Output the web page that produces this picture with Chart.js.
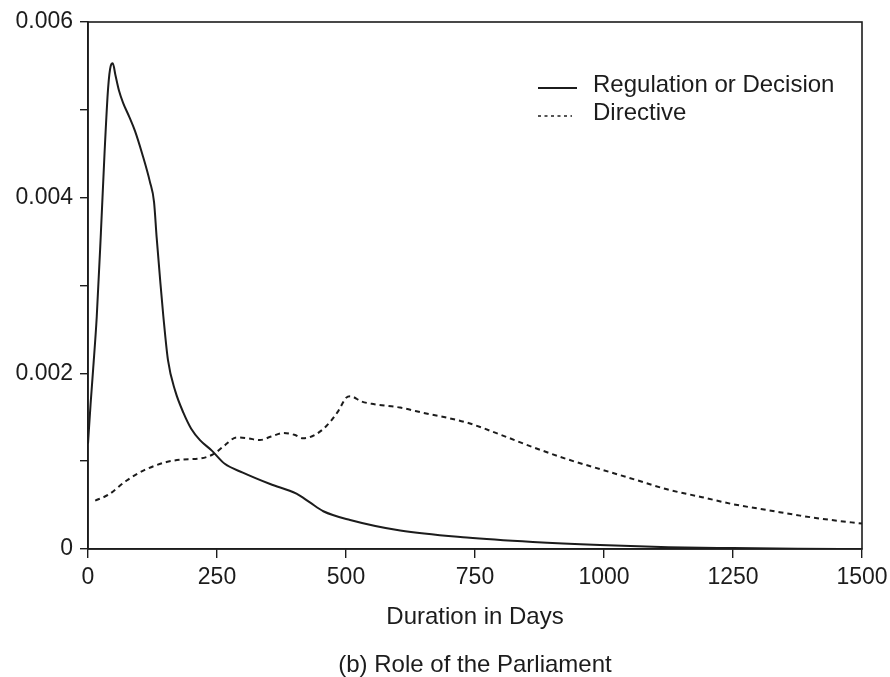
<!DOCTYPE html>
<html>
<head>
<meta charset="utf-8">
<script src="https://cdn.jsdelivr.net/npm/chart.js@4/dist/chart.umd.min.js"></script>
<style>
  html, body { margin: 0; padding: 0; background: #fff; }
  #wrap { width: 890px; height: 677px; position: relative; }
</style>
</head>
<body>
<div id="wrap"><canvas id="c" width="890" height="677"></canvas></div>
<script>
// ---- data ----
const regDays = [0, 5, 10, 17, 25, 32, 39, 44, 48, 53, 60, 68, 80, 91, 105, 120, 128, 133, 140, 146, 155, 169, 185, 200, 217, 240, 265, 300, 353, 404, 430, 456, 508, 605, 734, 862, 992, 1125, 1250, 1375, 1500];
const regValues = [0.00120, 0.00165, 0.00205, 0.00265, 0.00360, 0.00450, 0.00525, 0.00550, 0.00553, 0.00540, 0.00522, 0.00508, 0.00492, 0.00476, 0.00450, 0.00418, 0.00395, 0.00355, 0.00305, 0.00265, 0.00215, 0.00180, 0.00155, 0.00137, 0.00124, 0.00112, 0.00097, 0.00087, 0.00074, 0.00063, 0.00053, 0.00043, 0.00033, 0.00021, 0.00013, 0.00008, 0.000045, 0.00002, 0.00001, 0.000003, 0];

const dirDays = [14, 40, 75, 110, 152, 185, 217, 243, 265, 288, 310, 333, 355, 379, 400, 417, 440, 462, 485, 500, 508, 530, 553, 605, 650, 734, 800, 862, 930, 992, 1060, 1122, 1190, 1250, 1320, 1380, 1440, 1500];
const dirValues = [0.00055, 0.00062, 0.00078, 0.00090, 0.00099, 0.00102, 0.00103, 0.00108, 0.00118, 0.00127, 0.00126, 0.00124, 0.00128, 0.00132, 0.00130, 0.00126, 0.00130, 0.00140, 0.00157, 0.00172, 0.00174, 0.00168, 0.00165, 0.00161, 0.00155, 0.00144, 0.00130, 0.00116, 0.00102, 0.00091, 0.00079, 0.00068, 0.00059, 0.00051, 0.00044, 0.00038, 0.00033, 0.00029];

const seriesLabels = ["Regulation or Decision", "Directive"];
const xTickValues = [0, 250, 500, 750, 1000, 1250, 1500];
const yLabelledTicks = ["0", "0.002", "0.004", "0.006"];
const xTitle = "Duration in Days";
const caption = "(b) Role of the Parliament";

const INK = '#1c1c1c';
const FONT = "'Liberation Sans', Arial, Helvetica, sans-serif";

function toPoints(xs, ys) { return xs.map((x, i) => ({ x: x, y: ys[i] })); }

const frame = {
  id: 'frame',
  afterDatasetsDraw(chart) {
    const { ctx, chartArea: a } = chart;
    ctx.save();
    ctx.strokeStyle = INK;
    ctx.lineWidth = 1.6;
    ctx.strokeRect(a.left, a.top, a.right - a.left, a.bottom - a.top);
    ctx.restore();
  }
};

const innerLegend = {
  id: 'innerLegend',
  afterDatasetsDraw(chart) {
    const { ctx, chartArea: a } = chart;
    ctx.save();
    ctx.font = '24px ' + FONT;
    ctx.fillStyle = INK;
    ctx.textBaseline = 'alphabetic';
    const x0 = a.left + 450, x1 = a.left + 489, tx = a.left + 505;
    const rows = [a.top + 70, a.top + 98];
    chart.data.datasets.forEach((ds, i) => {
      const base = rows[i];
      ctx.strokeStyle = INK;
      ctx.lineWidth = i === 0 ? 1.8 : 1.6;
      ctx.setLineDash(i === 0 ? [] : [3, 3.5]);
      ctx.beginPath();
      ctx.moveTo(x0, base - 4);
      ctx.lineTo(i === 0 ? x1 : x1 - 5, base - 4);
      ctx.stroke();
      ctx.setLineDash([]);
      ctx.fillText(ds.label, tx, base);
    });
    ctx.restore();
  }
};

new Chart(document.getElementById('c'), {
  type: 'line',
  data: {
    datasets: [
      {
        label: seriesLabels[0],
        data: toPoints(regDays, regValues),
        borderColor: INK,
        borderWidth: 2,
        pointRadius: 0,
        cubicInterpolationMode: 'monotone',
        fill: false
      },
      {
        label: seriesLabels[1],
        data: toPoints(dirDays, dirValues),
        borderColor: INK,
        borderWidth: 2,
        borderDash: [5, 4],
        pointRadius: 0,
        cubicInterpolationMode: 'monotone',
        fill: false
      }
    ]
  },
  options: {
    responsive: false,
    animation: false,
    devicePixelRatio: 1,
    layout: { padding: { left: 0, right: 28, top: 22, bottom: 0 } },
    plugins: {
      legend: { display: false },
      tooltip: { enabled: false },
      title: { display: false }
    },
    scales: {
      x: {
        type: 'linear',
        min: 0,
        max: 1500,
        afterBuildTicks(s) { s.ticks = xTickValues.map(v => ({ value: v })); },
        afterFit(s) { s.height = 128; s.paddingLeft = 0; s.paddingRight = 0; },
        ticks: {
          color: INK,
          padding: 6,
          maxRotation: 0,
          font: { family: FONT, size: 23 },
          callback: (v) => String(v)
        },
        grid: { drawOnChartArea: false, drawTicks: true, tickLength: 9, color: INK, lineWidth: 1.4 },
        border: { display: true, color: INK, width: 1.6 },
        title: {
          display: true,
          text: [xTitle, caption],
          color: INK,
          font: { family: FONT, size: 24, lineHeight: 2.02 },
          padding: { top: 0, bottom: -13 }
        }
      },
      y: {
        type: 'linear',
        min: 0,
        max: 0.006,
        afterFit(s) { s.width = 88; },
        ticks: {
          stepSize: 0.001,
          color: INK,
          padding: 7,
          font: { family: FONT, size: 23 },
          callback: (v) => {
            const k = Math.round(v * 1000);
            return k % 2 === 0 ? yLabelledTicks[k / 2] : '';
          }
        },
        grid: { drawOnChartArea: false, drawTicks: true, tickLength: 8, color: INK, lineWidth: 1.4 },
        border: { display: true, color: INK, width: 1.6 }
      }
    }
  },
  plugins: [frame, innerLegend]
});
</script>
</body>
</html>
